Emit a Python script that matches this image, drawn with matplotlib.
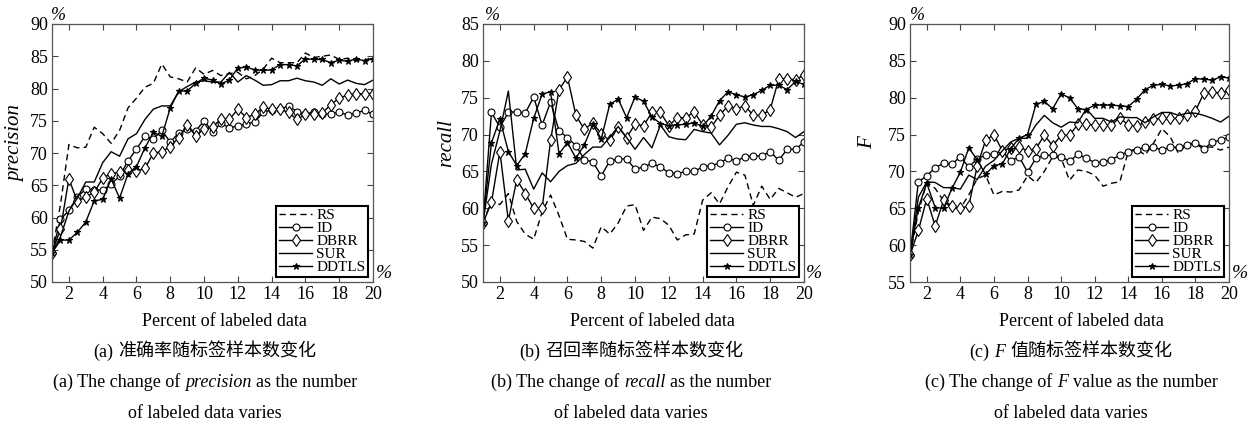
import numpy as np
import matplotlib
matplotlib.use("Agg")
import matplotlib.pyplot as plt

plt.rcParams['font.family'] = ['Liberation Serif', 'Noto Sans CJK SC']

x = np.arange(1, 20.01, 0.5)
methods = ["RS", "ID", "DBRR", "SUR", "DDTLS"]

prec_rs = [54.5, 62, 71.3, 70.8, 70.9, 74.0, 73.0, 71.5, 73.5, 77.0, 78.5, 80.2, 80.8, 83.8, 81.8, 81.5, 81.0, 83.2, 82.2, 82.8,
           82.0, 82.3, 82.5, 81.5, 82.0, 83.0, 84.7, 84.0, 84.0, 84.0, 85.5, 84.8, 85.0, 85.2, 84.5, 84.7, 84.3, 84.3, 85.0]
prec_id = [54.5, 59.7, 61.1, 63.2, 64.4, 64.3, 64.2, 65.2, 66.4, 68.8, 70.6, 72.6, 72.2, 73.5, 71.7, 73.1, 73.7, 73.4, 75.0,
           73.3, 74.6, 73.9, 74.2, 74.5, 74.8, 76.3, 76.7, 76.8, 77.3, 76.4, 76.0, 76.4, 76.0, 76.1, 76.3, 75.9, 76.2, 76.6, 76.0]
prec_dbrr = [54.5, 58.2, 66.0, 62.5, 63.2, 63.9, 66.1, 66.8, 67.0, 67.3, 67.2, 67.6, 70.0, 70.2, 71.0, 72.4, 74.3, 72.7, 73.7,
             74.0, 75.3, 75.2, 76.8, 75.5, 76.0, 77.1, 76.8, 76.8, 76.3, 75.2, 76.0, 76.0, 76.2, 77.5, 78.5, 79.0, 79.2, 79.2, 79.2]
prec_sur = [54.5, 57.0, 61.0, 63.0, 65.5, 65.5, 68.5, 70.2, 69.5, 72.2, 73.0, 75.2, 76.8, 77.3, 77.3, 79.5, 80.3, 81.0, 81.2,
            81.0, 81.0, 82.5, 81.0, 82.0, 81.3, 80.5, 80.6, 81.2, 81.2, 81.6, 81.2, 81.0, 80.5, 81.5, 80.7, 81.3, 80.8, 80.6, 81.3]
prec_ddtls = [54.5, 56.5, 56.5, 57.7, 59.3, 62.6, 62.8, 66.0, 63.0, 66.8, 67.9, 70.8, 73.2, 72.6, 77.0, 79.6, 79.6, 80.8, 81.6,
              81.3, 80.7, 81.3, 83.2, 83.3, 82.9, 82.8, 82.9, 83.7, 83.7, 83.5, 84.6, 84.5, 84.5, 84.0, 84.4, 84.2, 84.6, 84.3, 84.6]

rec_rs = [58, 61, 60.5, 62, 58.2, 56.5, 55.8, 59.5, 61.8, 59, 55.8, 55.7, 55.5, 54.6, 57.5, 56.5, 58, 60.3, 60.5, 57,
          58.8, 58.6, 57.7, 55.7, 56.4, 56.5, 61.1, 62.1, 60.6, 62.9, 64.9, 64.5, 60.4, 63, 61.2, 62.7, 62.1, 61.5, 62]
rec_id = [58, 73, 71, 73, 73.1, 72.9, 75.1, 71.3, 74.4, 70.5, 69.6, 68.5, 66.6, 66.3, 64.4, 66.4, 66.7, 66.7, 65.3, 65.6,
          66.1, 65.6, 64.8, 64.7, 65, 65, 65.6, 65.8, 66.1, 66.8, 66.4, 67, 67.1, 67.1, 67.7, 66.5, 68, 68, 69]
rec_dbrr = [58, 60.8, 67.7, 58.3, 63.9, 62, 60, 60, 69.2, 76.1, 77.8, 72.6, 70.7, 71.6, 70.1, 69.2, 71, 69.6, 71.4, 71.2,
            73, 73, 71.2, 72.3, 72.3, 73.1, 71.3, 71, 72.6, 73.9, 73.5, 73.9, 72.6, 72.6, 73.4, 77.5, 77.6, 77.4, 78.1]
rec_sur = [58, 66, 70.5, 75.9, 65.2, 65.3, 62.6, 64.8, 63.6, 65.0, 65.8, 66.1, 67.3, 68.3, 68.3, 69.6, 71.1, 69.6, 68, 69.6,
           68.2, 71.3, 69.7, 69.4, 69.3, 70.7, 70.4, 70.2, 68.6, 69.9, 71.4, 71.6, 71.3, 71.1, 71.1, 70.8, 70.4, 69.6, 70.4]
rec_ddtls = [58, 68.9, 72.1, 67.7, 65.8, 67.4, 72.2, 75.5, 75.8, 67.4, 68.9, 66.8, 68.6, 71.4, 69.4, 74.1, 74.8, 72.3, 75.1, 74.5,
             72.4, 71.5, 71.2, 71.3, 71.4, 71.6, 71.1, 72.5, 74.6, 75.8, 75.4, 75.1, 75.4, 76, 76.7, 76.7, 76.1, 77.2, 76.8]

f_rs = [58.6, 64.5, 68.5, 67.7, 66.0, 65.0, 65.0, 66.8, 69.0, 69.5, 66.8, 67.3, 67.2, 67.5, 69.4, 68.5, 70, 72, 71.8, 68.8,
        70.2, 70, 69.5, 68, 68.4, 68.6, 72.7, 73.1, 72.2, 73.8, 75.8, 74.7, 72.4, 73.8, 73.8, 73.3, 73.3, 72.9, 73.3]
f_id = [58.6, 68.6, 69.4, 70.5, 71.1, 71.0, 72.0, 70.6, 71.7, 72.2, 72.4, 72.8, 71.4, 72.0, 69.9, 71.8, 72.2, 72.2, 72.0, 71.4,
        72.3, 71.8, 71.2, 71.3, 71.6, 72.2, 72.7, 72.9, 73.3, 73.3, 72.9, 73.3, 73.3, 73.6, 73.8, 73.0, 74.0, 74.2, 74.7]
f_dbrr = [58.6, 62.0, 66.3, 62.6, 66.1, 65.3, 65.0, 65.3, 70.7, 74.2, 75.0, 72.8, 73.2, 73.3, 72.8, 73.1, 74.9, 73.5, 74.9, 74.9,
          76.4, 76.4, 76.3, 76.3, 76.3, 77.3, 76.3, 76.1, 76.7, 77.1, 77.2, 77.2, 77.2, 77.6, 78.2, 80.6, 80.8, 80.6, 81.0]
f_sur = [58.6, 66.5, 68.6, 68.5, 67.8, 67.8, 67.6, 69.5, 68.9, 70.7, 71.5, 72.8, 74.0, 74.5, 74.5, 76.3, 77.6, 76.6, 76.0, 76.7,
         76.6, 78.5, 77.2, 77.2, 76.7, 77.4, 77.3, 77.3, 76.6, 77.4, 78.0, 78.0, 77.6, 77.9, 77.9, 77.6, 77.2, 76.7, 77.5]
f_ddtls = [58.6, 65.1, 68.4, 65.1, 65.0, 67.7, 69.9, 73.2, 71.6, 69.6, 70.8, 71.0, 73.1, 74.5, 75.0, 79.1, 79.5, 78.5, 80.5, 80.0,
           78.5, 78.4, 79.0, 79.0, 79.0, 78.9, 78.8, 79.8, 81.1, 81.7, 81.8, 81.6, 81.7, 81.9, 82.6, 82.5, 82.4, 82.8, 82.7]

panels = [
    dict(data=[prec_rs, prec_id, prec_dbrr, prec_sur, prec_ddtls], ylim=(50, 90), yticks=[50, 55, 60, 65, 70, 75, 80, 85, 90],
         ylabel="precision", cn=[("(a)", "normal"), ("准确率随标签样本数变化", "normal")],
         en=[("(a) The change of", "normal"), ("precision", "italic"), ("as the number", "normal")]),
    dict(data=[rec_rs, rec_id, rec_dbrr, rec_sur, rec_ddtls], ylim=(50, 85), yticks=[50, 55, 60, 65, 70, 75, 80, 85],
         ylabel="recall", cn=[("(b)", "normal"), ("召回率随标签样本数变化", "normal")],
         en=[("(b) The change of", "normal"), ("recall", "italic"), ("as the number", "normal")]),
    dict(data=[f_rs, f_id, f_dbrr, f_sur, f_ddtls], ylim=(55, 90), yticks=[55, 60, 65, 70, 75, 80, 85, 90],
         ylabel="F", cn=[("(c)", "normal"), ("F", "italic"), ("值随标签样本数变化", "normal")],
         en=[("(c) The change of", "normal"), ("F", "italic"), ("value as the number", "normal")]),
]
xticks = [2, 4, 6, 8, 10, 12, 14, 16, 18, 20]

W, H = 1255, 426
fig = plt.figure(figsize=(W / 100, H / 100), dpi=100)

boxes = [(52, 373), (483, 804), (910, 1229)]
top_px, bot_px = 24, 282
ylabel_x = [16, 447, 868]
pct_top = [58, 492, 917]
pct_bot = [384, 814, 1240]
xlab_c = [224, 652, 1081]
cap_c = [205, 631, 1071]

styles = [
    dict(ls=(0, (4.5, 3)), marker=None),
    dict(ls='-', marker='o', ms=5, mfc='white'),
    dict(ls='-', marker='d', ms=6, mfc='white'),
    dict(ls='-', marker=None),
    dict(ls='-', marker='*', ms=4.5, mfc='black'),
]

renderer = fig.canvas.get_renderer()


def rich_line(xc_px, yc_px, parts, size):
    texts = []
    for s, st in parts:
        t = fig.text(0, 1 - (yc_px + 5) / H, s, fontsize=size, style=st, va='baseline', ha='left',
                     family=['Liberation Serif', 'Noto Sans CJK SC'])
        texts.append(t)
    widths = [t.get_window_extent(renderer).width for t in texts]
    gap = size * 0.27 * 100 / 72
    total = sum(widths) + gap * (len(texts) - 1)
    xx = xc_px - total / 2
    for t, w in zip(texts, widths):
        t.set_x(xx / W)
        xx += w + gap


for i, p in enumerate(panels):
    l, r = boxes[i]
    ax = fig.add_axes([l / W, 1 - bot_px / H, (r - l) / W, (bot_px - top_px) / H])
    for vals, name, st in zip(p['data'], methods, styles):
        ax.plot(x, vals, color='black', lw=1.0, linestyle=st['ls'], marker=st['marker'],
                markersize=st.get('ms', 0), markerfacecolor=st.get('mfc', 'black'),
                markeredgecolor='black', markeredgewidth=0.8, label=name)
    ax.set_xlim(1, 20)
    ax.set_ylim(*p['ylim'])
    ax.set_xticks(xticks)
    ax.set_yticks(p['yticks'])
    ax.tick_params(direction='in', top=True, right=True, length=4, width=0.8, color='#444444',
                   labelsize=13, pad=3)
    for sp in ax.spines.values():
        sp.set_color('#555555')
        sp.set_linewidth(0.9)
    for lab in ax.get_xticklabels() + ax.get_yticklabels():
        lab.set_family('Liberation Serif')
    leg = ax.legend(loc='lower right', frameon=True, fancybox=False, framealpha=1,
                    edgecolor='black', handlelength=2.2, handletextpad=0.25, borderpad=0.2,
                    labelspacing=0.0, borderaxespad=0.3, handleheight=0.5,
                    prop={'family': 'Liberation Serif', 'size': 11})
    leg.get_frame().set_linewidth(1.5)
    fig.text(ylabel_x[i] / W, 1 - ((top_px + bot_px) / 2 - 10) / H, p['ylabel'], fontsize=15, style='italic',
             rotation=90, ha='center', va='center', family='Liberation Serif')
    fig.text(pct_top[i] / W, 1 - 15 / H, '%', fontsize=13, style='italic', ha='center', va='center',
             family='Liberation Serif')
    fig.text(pct_bot[i] / W, 1 - 274 / H, '%', fontsize=14, style='italic', ha='center', va='center',
             family='Liberation Serif')
    fig.text(xlab_c[i] / W, 1 - 322 / H, 'Percent of labeled data', fontsize=13, ha='center', va='center',
             family='Liberation Serif')
    rich_line(cap_c[i], 352, p['cn'], 13)
    rich_line(cap_c[i], 382, p['en'], 13)
    fig.text(cap_c[i] / W, 1 - 414 / H, 'of labeled data varies', fontsize=13, ha='center', va='center',
             family='Liberation Serif')

fig.savefig('out.png', dpi=100)
